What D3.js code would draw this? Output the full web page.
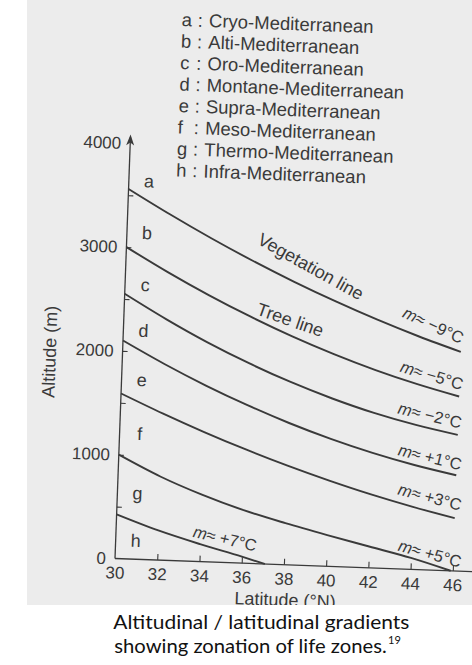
<!DOCTYPE html>
<html>
<head>
<meta charset="utf-8">
<script src="https://cdn.jsdelivr.net/npm/d3@7"></script>
<style>
  html, body { margin: 0; padding: 0; background: #fff; }
  svg { display: block; }
</style>
</head>
<body>
<div id="chart"></div>
<script>
// latitude (°N) grid the boundary lines were read at
const latitudes = [30, 32, 34, 36, 38, 40, 42, 44, 46];
const latTicks = [30, 32, 34, 36, 38, 40, 42, 44, 46];
const altTicks = [0, 500, 1000, 1500, 2000, 2500, 3000, 3500, 4000];

// boundary altitudes (m) between zones
const vegetationLine = [3560, 3331, 3115, 2913, 2725, 2551, 2390, 2243, 2110];
const treeLine       = [3000, 2774, 2565, 2374, 2200, 2044, 1905, 1784, 1680];
const oroMontane     = [2550, 2321, 2112, 1926, 1760, 1616, 1492, 1391, 1310];
const montaneSupra   = [2100, 1889, 1696, 1522, 1365, 1227, 1107, 1005, 921];
const supraMeso      = [1590, 1413, 1248, 1095, 954, 825, 707, 602, 508];
const mesoThermoLat  = [30, 32, 34, 36, 38, 40, 42, 44, 45.9];
const mesoThermo     = [1000, 805, 645, 510, 400, 300, 205, 110, 0];
const thermoInfraLat = [30, 32, 34, 36, 37.1];
const thermoInfra    = [425, 285, 168, 62, 0];

const zoneLetters = ['a', 'b', 'c', 'd', 'e', 'f', 'g', 'h'];
const zoneNames = ['Cryo-Mediterranean', 'Alti-Mediterranean', 'Oro-Mediterranean',
  'Montane-Mediterranean', 'Supra-Mediterranean', 'Meso-Mediterranean',
  'Thermo-Mediterranean', 'Infra-Mediterranean'];
const zoneLetterAlt = [3640, 3140, 2640, 2200, 1725, 1205, 635, 176];

const isoTemps = ['−9', '−5', '−2', '+1', '+3', '+5', '+7'];
const isoLat = [44.66, 44.67, 44.65, 44.73, 44.79, 44.89, 35.17];
const isoAlt = [2359, 1877, 1491, 1090, 706, 161, 233];
const isoAngle = [22.8, 14.7, 11.5, 11.5, 12.6, 13.5, 11];

const W = 472, H = 665;
const ink = '#3a3a3a';
const font = '"Liberation Sans", Arial, sans-serif';

const svg = d3.select('#chart').append('svg')
  .attr('width', W)
  .attr('height', H);

svg.append('rect').attr('width', W).attr('height', H).attr('fill', '#fff');

// scanned page area
svg.append('defs').append('clipPath').attr('id', 'scan')
  .append('rect').attr('x', 27).attr('y', 0).attr('width', W - 27).attr('height', 605);
svg.append('rect')
  .attr('x', 27).attr('y', 0).attr('width', W - 27).attr('height', 605)
  .attr('fill', '#ececec');

const g = svg.append('g').attr('clip-path', 'url(#scan)')
  .append('g')
  .attr('transform', 'translate(115,558.5) rotate(2.1)')
  .style('font-family', font)
  .style('fill', ink);

const x = d3.scaleLinear().domain([30, 46]).range([0, 338]);
const y = d3.scaleLinear().domain([0, 4000]).range([0, -415.5]);

// axes
const yAxis = g.append('g')
  .call(d3.axisLeft(y)
    .tickValues(altTicks.slice(0, -1).concat([4000]))
    .tickSize(-5)
    .tickPadding(9)
    .tickFormat(d => d % 1000 === 0 ? d : ''));
yAxis.select('.domain').remove();
yAxis.selectAll('line').attr('stroke', ink).attr('stroke-width', 1.1)
  .filter(d => d === 4000 || d === 0).remove();
yAxis.selectAll('text')
  .style('font-family', font).style('font-size', '17px').attr('fill', ink);

const xAxis = g.append('g')
  .call(d3.axisBottom(x)
    .tickValues(latTicks)
    .tickSize(-6)
    .tickPadding(8));
xAxis.select('.domain').remove();
xAxis.selectAll('line').attr('stroke', ink).attr('stroke-width', 1.1)
  .filter(d => d === 30).remove();
xAxis.selectAll('text')
  .style('font-family', font).style('font-size', '17px').attr('fill', ink);

g.append('line')
  .attr('x1', x(30)).attr('x2', x(47.5))
  .attr('y1', y(0)).attr('y2', y(0))
  .attr('stroke', ink).attr('stroke-width', 1.3);
g.append('line')
  .attr('x1', x(30)).attr('x2', x(30))
  .attr('y1', y(0)).attr('y2', y(4060))
  .attr('stroke', ink).attr('stroke-width', 1.3);
g.append('path')
  .attr('d', `M${x(30)},${y(4085)} l-4,11 l4,-3 l4,3 z`)
  .attr('fill', ink);

// boundary lines
const line = d3.line()
  .x(d => x(d[0]))
  .y(d => y(d[1]))
  .curve(d3.curveMonotoneX);

const boundaries = [
  d3.zip(latitudes, vegetationLine),
  d3.zip(latitudes, treeLine),
  d3.zip(latitudes, oroMontane),
  d3.zip(latitudes, montaneSupra),
  d3.zip(latitudes, supraMeso),
  d3.zip(mesoThermoLat, mesoThermo),
  d3.zip(thermoInfraLat, thermoInfra)
];

g.selectAll('.boundary')
  .data(boundaries)
  .enter()
  .append('path')
  .attr('class', 'boundary')
  .attr('d', line)
  .attr('fill', 'none')
  .attr('stroke', ink)
  .attr('stroke-width', 1.9);

// zone letters next to the altitude axis
g.selectAll('.zone')
  .data(zoneLetters)
  .enter()
  .append('text')
  .attr('x', x(30.95))
  .attr('y', (d, i) => y(zoneLetterAlt[i]))
  .attr('text-anchor', 'middle')
  .attr('dominant-baseline', 'central')
  .style('font-size', '18px')
  .text(d => d);

// legend
const legend = g.append('g').attr('transform', 'translate(47,-534.5)')
  .style('font-size', '18.5px');
zoneLetters.forEach((letter, i) => {
  const row = legend.append('g').attr('transform', `translate(0,${i * 21.5})`);
  row.append('text').attr('x', 0).text(letter);
  row.append('text').attr('x', 16).text(':');
  row.append('text').attr('x', 27.3).text(zoneNames[i]);
});

// line names
const lineLabel = (lat, alt, angle, txt) => g.append('text')
  .attr('transform', `translate(${x(lat)},${y(alt)}) rotate(${angle})`)
  .attr('text-anchor', 'middle')
  .attr('dominant-baseline', 'central')
  .style('font-size', '18px')
  .text(txt);
lineLabel(38.75, 2876, 27, 'Vegetation line');
lineLabel(37.87, 2356, 17.2, 'Tree line');

// mean minimum temperature of the coldest month
isoTemps.forEach((t, i) => {
  const lab = g.append('text')
    .attr('transform', `translate(${x(isoLat[i])},${y(isoAlt[i])}) rotate(${isoAngle[i]})`)
    .attr('text-anchor', 'middle')
    .attr('dominant-baseline', 'central')
    .style('font-size', '16.5px');
  lab.append('tspan').style('font-style', 'italic').text('m');
  lab.append('tspan').text(`≈ ${t}°C`);
});

// axis titles
g.append('text')
  .attr('transform', 'translate(-72.6,-204.3) rotate(-90)')
  .attr('text-anchor', 'middle')
  .attr('dominant-baseline', 'central')
  .style('font-size', '18px')
  .text('Altitude (m)');
g.append('text')
  .attr('x', 171.5).attr('y', 35.3)
  .attr('text-anchor', 'middle')
  .attr('dominant-baseline', 'central')
  .style('font-size', '18px')
  .text('Latitude (°N)');

// caption below the scan
const cap = svg.append('g')
  .style('font-family', 'Lato, "Open Sans", sans-serif')
  .style('font-size', '19px')
  .style('fill', '#111');
cap.append('text')
  .attr('x', 113.3).attr('y', 628.5)
  .attr('textLength', 296).attr('lengthAdjust', 'spacingAndGlyphs')
  .text('Altitudinal / latitudinal gradients');
cap.append('text')
  .attr('x', 114.3).attr('y', 652.5)
  .attr('textLength', 272.4).attr('lengthAdjust', 'spacingAndGlyphs')
  .text('showing zonation of life zones.');
cap.append('text')
  .attr('x', 388).attr('y', 644)
  .style('font-size', '11px')
  .text('19');
</script>
</body>
</html>
